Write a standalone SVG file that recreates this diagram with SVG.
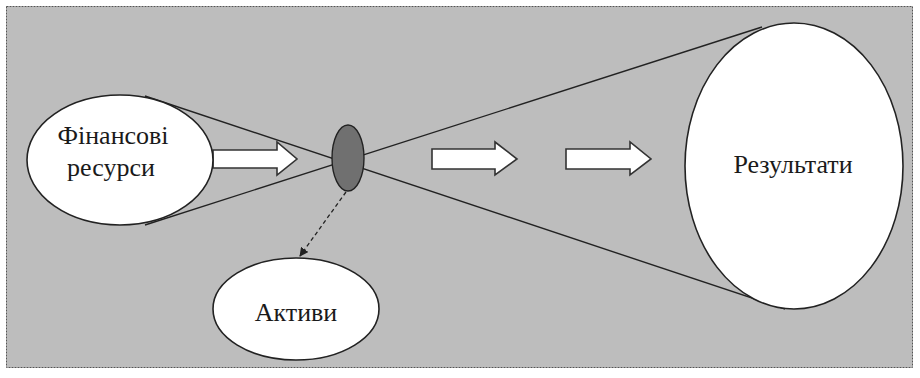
<svg xmlns="http://www.w3.org/2000/svg" width="920" height="378" viewBox="0 0 920 378">
<style>
.node{fill:#ffffff;stroke:#222;stroke-width:1.6}
.lbl{font-family:"Liberation Serif","Times New Roman",serif;font-size:26px;fill:#1a1a1a;text-anchor:middle}
.cone{fill:none;stroke:#222;stroke-width:1.4}
.block{fill:#ffffff;stroke:#333;stroke-width:1.6;stroke-linejoin:miter}
</style>
<defs>
<marker id="ah" viewBox="0 0 10 10" refX="9" refY="5" markerWidth="9" markerHeight="9" orient="auto" markerUnits="userSpaceOnUse">
<path d="M0,0 L10,5 L0,10 z" fill="#222"/>
</marker>
</defs>
<rect x="0" y="0" width="920" height="378" fill="#ffffff"/>
<rect x="6.5" y="6.5" width="906" height="361" fill="#bdbdbd" stroke="#555" stroke-width="1" stroke-dasharray="2 1"/>
<g id="connectors">
<path class="cone" d="M145,96 Q460,200 785,309"/>
<path class="cone" d="M145,225 Q470,120 762,27"/>
<line x1="346" y1="192" x2="300" y2="256" stroke="#222" stroke-width="1.3" stroke-dasharray="4 3" marker-end="url(#ah)"/>
<path class="block" d="M213,150 H277 V142 L297,159 L277,175 V168 H213 Z"/>
<path class="block" d="M432,149 H495 V142 L517,159 L495,175 V169 H432 Z"/>
<path class="block" d="M566,149 H630 V142 L651,159 L630,175 V169 H566 Z"/>
</g>
<g id="fin">
<ellipse class="node" cx="120" cy="160" rx="93" ry="65"/>
<text class="lbl" x="113" y="144">Фінансові</text>
<text class="lbl" x="111" y="176">ресурси</text>
</g>
<g id="hub">
<ellipse cx="348" cy="158" rx="16" ry="33" fill="#707070" stroke="#222" stroke-width="1.4"/>
</g>
<g id="results">
<ellipse class="node" cx="794" cy="166" rx="109" ry="143"/>
<text class="lbl" x="793" y="173">Результати</text>
</g>
<g id="assets">
<ellipse class="node" cx="296" cy="309" rx="83" ry="51"/>
<text class="lbl" x="296" y="321">Активи</text>
</g>
</svg>
